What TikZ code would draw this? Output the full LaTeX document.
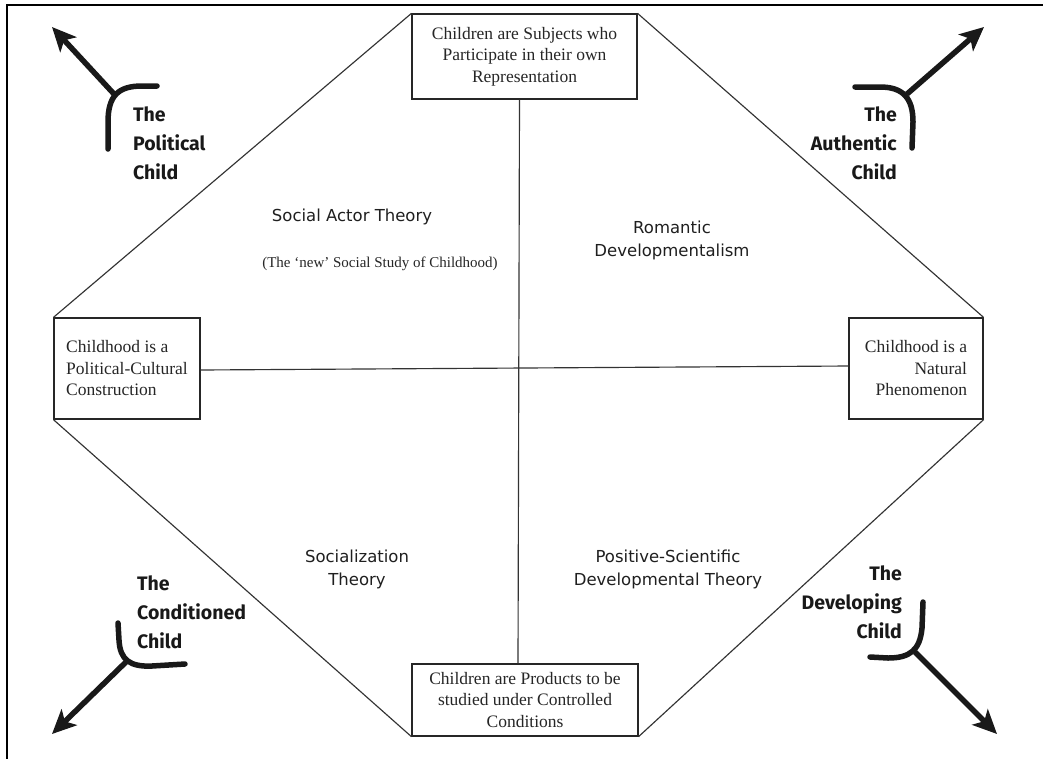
\documentclass[tikz,border=0pt]{standalone}
\usepackage{fontspec}
\setmainfont{Liberation Serif}
\newfontfamily\qfont{DejaVu Sans}
\newfontfamily\cfont{Fira Sans}
\usetikzlibrary{arrows.meta}
\begin{document}
\begin{tikzpicture}[x=1pt,y=-1pt,
  box/.style={draw=black!85, line width=1.2pt, inner sep=0pt, align=center,
    font=\fontsize{17.5}{21.5}\selectfont, text=black!85},
  edge/.style={draw=black!80, line width=1.15pt},
  qlbl/.style={font=\qfont\fontsize{16.5}{23}\selectfont, align=center, text=black!88, inner sep=0pt},
  slbl/.style={font=\fontsize{15}{18}\selectfont, text=black!85, inner sep=0pt},
  clbl/.style={font=\cfont\bfseries\fontsize{19.5}{29}\selectfont, inner sep=0pt, text=black!90},
  yline/.style={line width=5.5pt, line cap=round, line join=round, draw=black!90},
  bigarrow/.style={line width=5.5pt, draw=black!90, fill=black!90, -{Stealth[length=24pt,width=22pt,inset=6pt]}}
]
\useasboundingbox (0,0) rectangle (1043,758);
\fill[white] (0,0) rectangle (1043,758);
% frame
\draw[line width=2.7pt, line join=miter] (7,760) -- (7,5) -- (1045,5);

% boxes
\node[box, minimum width=225pt, minimum height=85pt] (top) at (524.5,56.5)
  {Children are Subjects who\\Participate in their own\\Representation};
\node[box, minimum width=226pt, minimum height=72pt] (bot) at (525,700)
  {Children are Products to be\\studied under Controlled\\Conditions};
\node[box, align=left, minimum width=146pt, minimum height=101pt] (lft) at (127,368.5)
  {Childhood is a\\Political-Cultural\\Construction};
\node[box, align=right, minimum width=134pt, minimum height=101pt] (rgt) at (916,368.5)
  {Childhood is a\\Natural\\Phenomenon};

% axes
\draw[edge] ([xshift=-5pt]top.south) -- ([xshift=-7pt]bot.north);
\draw[edge] ([yshift=-1.5pt]lft.east) -- ([yshift=2.5pt]rgt.west);
% octagon sides
\draw[edge] (top.north west) -- (lft.north west);
\draw[edge] (lft.south west) -- (bot.south west);
\draw[edge] (top.north east) -- (rgt.north east);
\draw[edge] (rgt.south east) -- (bot.south east);

% quadrant labels
\node[qlbl] (sat) at (352,217) {Social Actor Theory};
\node[slbl] (nss) at (380,264) {(The `new' Social Study of Childhood)};
\node[qlbl] (rd) at (672,240) {Romantic\\Developmentalism};
\node[qlbl] (st) at (357,569) {Socialization\\Theory};
\node[qlbl] (psd) at (668,569) {Positive-Scientific\\Developmental Theory};

% corner labels
\node[clbl, align=left, anchor=north west] (pol) at (133,107) {The\\Political\\Child};
\node[clbl, align=right, anchor=north east] (aut) at (897,107) {The\\Authentic\\Child};
\node[clbl, align=left, anchor=north west] (con) at (137,576) {The\\Conditioned\\Child};
\node[clbl, align=right, anchor=north east] (dev) at (902,566) {The\\Developing\\Child};

% Y-shaped arrows
\coordinate (pj) at (114,94);  \coordinate (pt) at (52,27);
\draw[yline] (108,149) -- (108,122) .. controls (108,96) and (118,86) .. (142,86) -- (157,86);
\draw[bigarrow] (pj) -- (pt);

\coordinate (aj) at (907,94);  \coordinate (at) at (984,27);
\draw[yline] (855,87) -- (880,87) .. controls (903,87) and (913,98) .. (913,122) -- (912,148);
\draw[bigarrow] (aj) -- (at);

\coordinate (cj) at (127,661); \coordinate (ct) at (52,734);
\draw[yline] (118,623) -- (119,640) .. controls (120,660) and (130,667) .. (152,666) -- (185,664);
\draw[bigarrow] (cj) -- (ct);

\coordinate (dj) at (915,652); \coordinate (dt) at (997,734);
\draw[yline] (923,602) -- (922,628) .. controls (920,650) and (910,658) .. (888,658) -- (870,657);
\draw[bigarrow] (dj) -- (dt);
\end{tikzpicture}
\end{document}
